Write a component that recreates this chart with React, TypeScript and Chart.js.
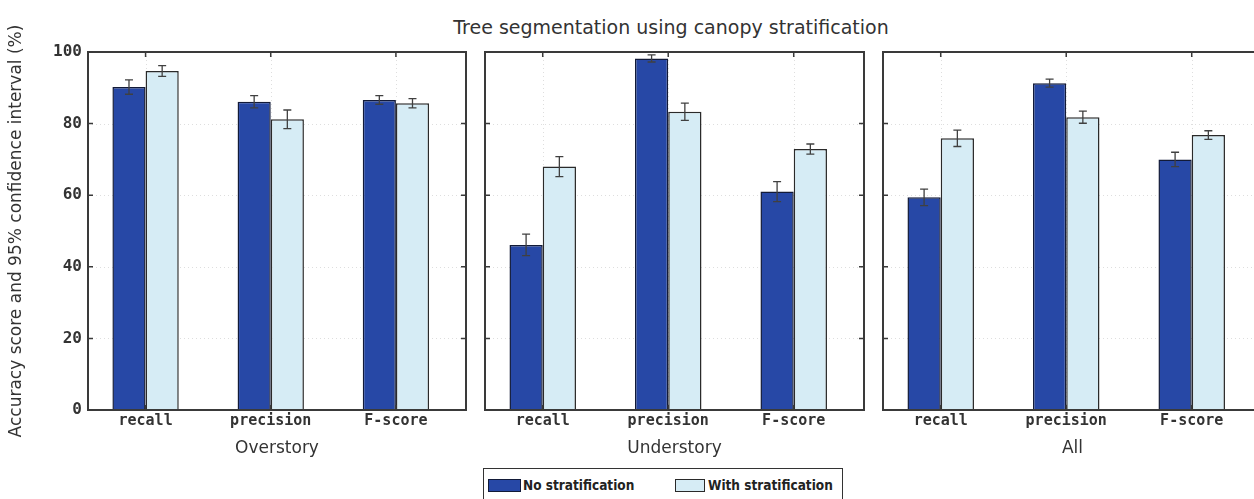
import React, { useEffect, useRef } from "react";
import { Chart, registerables } from "chart.js";

Chart.register(...registerables);

const categories = ["recall", "precision", "F-score"];
const categoryPositions = [1, 2, 3];
const panelTitles = ["Overstory", "Understory", "All"];
const seriesNames = ["No stratification", "With stratification"];
const yTicks = [0, 20, 40, 60, 80, 100];
const yLabel = "Accuracy score and 95% confidence interval (%)";
const mainTitle = "Tree segmentation using canopy stratification";

const overstoryNo = [90.2, 86.1, 86.6];
const overstoryNoErr = [2.0, 1.7, 1.2];
const overstoryWith = [94.7, 81.2, 85.7];
const overstoryWithErr = [1.5, 2.6, 1.3];

const understoryNo = [46.1, 98.2, 61.0];
const understoryNoErr = [3.0, 1.0, 2.8];
const understoryWith = [68.0, 83.3, 72.9];
const understoryWithErr = [2.8, 2.4, 1.4];

const allNo = [59.4, 91.3, 70.0];
const allNoErr = [2.3, 1.1, 2.0];
const allWith = [75.9, 81.8, 76.8];
const allWithErr = [2.3, 1.7, 1.2];

const DARK = "#2748a6";
const DARK_BORDER = "#121a38";
const LIGHT = "#d6ecf5";
const LIGHT_BORDER = "#2a2a2a";

const panelsData = [
  { no: overstoryNo, noErr: overstoryNoErr, wi: overstoryWith, wiErr: overstoryWithErr },
  { no: understoryNo, noErr: understoryNoErr, wi: understoryWith, wiErr: understoryWithErr },
  { no: allNo, noErr: allNoErr, wi: allWith, wiErr: allWithErr },
];

const panelLayout = [
  { left: 0, width: 470, padLeft: 0, padRight: 4, showY: true },
  { left: 470, width: 400, padLeft: 15, padRight: 6, showY: false },
  { left: 870, width: 400, padLeft: 13, padRight: 8, showY: false },
];

const CANVAS_H = 460;

const matlabAxes = {
  id: "matlabAxes",
  beforeDatasetsDraw(chart: any) {
    const { ctx, chartArea: a, scales } = chart;
    const x = scales.x;
    const y = scales.y;
    ctx.save();
    ctx.strokeStyle = "rgba(0,0,0,0.13)";
    ctx.lineWidth = 1;
    ctx.setLineDash([1, 3]);
    yTicks.forEach((v) => {
      const py = Math.round(y.getPixelForValue(v)) + 0.5;
      ctx.beginPath();
      ctx.moveTo(a.left, py);
      ctx.lineTo(a.right, py);
      ctx.stroke();
    });
    categoryPositions.forEach((v) => {
      const px = Math.round(x.getPixelForValue(v)) + 0.5;
      ctx.beginPath();
      ctx.moveTo(px, a.top);
      ctx.lineTo(px, a.bottom);
      ctx.stroke();
    });
    ctx.restore();
  },
  afterDraw(chart: any) {
    const { ctx, chartArea: a, scales } = chart;
    const x = scales.x;
    const y = scales.y;
    ctx.save();
    ctx.strokeStyle = "#3a3a3a";
    ctx.lineWidth = 2;
    ctx.strokeRect(a.left, a.top, a.right - a.left, a.bottom - a.top);
    ctx.lineWidth = 1.5;
    const tl = 5;
    yTicks.forEach((v) => {
      const py = y.getPixelForValue(v);
      ctx.beginPath();
      ctx.moveTo(a.left, py);
      ctx.lineTo(a.left + tl, py);
      ctx.moveTo(a.right, py);
      ctx.lineTo(a.right - tl, py);
      ctx.stroke();
    });
    categoryPositions.forEach((v) => {
      const px = x.getPixelForValue(v);
      ctx.beginPath();
      ctx.moveTo(px, a.top);
      ctx.lineTo(px, a.top + tl);
      ctx.moveTo(px, a.bottom);
      ctx.lineTo(px, a.bottom - tl);
      ctx.stroke();
    });
    ctx.restore();
  },
};

const errorBars = {
  id: "errorBars",
  afterDatasetsDraw(chart: any) {
    const { ctx } = chart;
    const y = chart.scales.y;
    ctx.save();
    ctx.strokeStyle = "#404040";
    ctx.lineWidth = 1.3;
    chart.data.datasets.forEach((ds: any, i: number) => {
      const meta = chart.getDatasetMeta(i);
      meta.data.forEach((bar: any, j: number) => {
        const v = ds.data[j].y;
        const e = ds.errors[j];
        const top = y.getPixelForValue(v + e);
        const bot = y.getPixelForValue(v - e);
        const cx = bar.x;
        const cap = 4;
        ctx.beginPath();
        ctx.moveTo(cx, top);
        ctx.lineTo(cx, bot);
        ctx.moveTo(cx - cap, top);
        ctx.lineTo(cx + cap, top);
        ctx.moveTo(cx - cap, bot);
        ctx.lineTo(cx + cap, bot);
        ctx.stroke();
      });
    });
    ctx.restore();
  },
};

function Panel({ index }: { index: number }) {
  const ref = useRef<HTMLCanvasElement | null>(null);
  useEffect(() => {
    const lay = panelLayout[index];
    const d = panelsData[index];
    const toPts = (vals: number[]) => vals.map((v, i) => ({ x: categoryPositions[i], y: v }));
    const chart = new Chart(ref.current as HTMLCanvasElement, {
      type: "bar",
      data: {
        datasets: [
          {
            label: seriesNames[0],
            data: toPts(d.no),
            errors: d.noErr,
            backgroundColor: DARK,
            borderColor: DARK_BORDER,
            borderWidth: 1.5,
          } as any,
          {
            label: seriesNames[1],
            data: toPts(d.wi),
            errors: d.wiErr,
            backgroundColor: LIGHT,
            borderColor: LIGHT_BORDER,
            borderWidth: 1.5,
          } as any,
        ],
      },
      options: {
        responsive: false,
        animation: false,
        events: [],
        categoryPercentage: 0.53,
        barPercentage: 1.0,
        layout: { padding: { left: lay.padLeft, right: lay.padRight, top: 52, bottom: 0 } },
        plugins: { legend: { display: false }, tooltip: { enabled: false }, title: { display: false } },
        scales: {
          x: {
            type: "linear",
            min: 0.54,
            max: 3.56,
            offset: false,
            grid: { display: false, drawTicks: false, offset: false },
            border: { display: false },
            afterBuildTicks: (s: any) => {
              s.ticks = categoryPositions.map((v) => ({ value: v }));
            },
            afterFit: (s: any) => {
              s.height = CANVAS_H - 410;
            },
            ticks: {
              autoSkip: false,
              maxRotation: 0,
              padding: 2,
              color: "#333",
              font: { family: "'DejaVu Sans Mono', monospace", size: 15, weight: "bold" },
              callback: (v: any) => categories[Math.round(Number(v)) - 1] ?? "",
            },
            title: {
              display: true,
              text: panelTitles[index],
              color: "#333",
              font: { family: "'DejaVu Sans', sans-serif", size: 17 },
              padding: { top: 0, bottom: 1 },
            },
          },
          y: {
            type: "linear",
            display: lay.showY,
            min: 0,
            max: 100,
            grid: { display: false, drawTicks: false },
            border: { display: false },
            afterBuildTicks: (s: any) => {
              s.ticks = yTicks.map((v) => ({ value: v }));
            },
            afterFit: (s: any) => {
              if (lay.showY) s.width = 88;
            },
            ticks: {
              padding: 6,
              color: "#333",
              font: { family: "'DejaVu Sans Mono', monospace", size: 16, weight: "bold" },
            },
            title: {
              display: lay.showY,
              text: yLabel,
              color: "#333",
              font: { family: "'DejaVu Sans', sans-serif", size: 17 },
              padding: { top: 6, bottom: 0 },
            },
          },
        },
      } as any,
      plugins: [matlabAxes, errorBars],
    });
    return () => chart.destroy();
  }, [index]);
  const lay = panelLayout[index];
  return (
    <canvas
      ref={ref}
      width={lay.width}
      height={CANVAS_H}
      style={{ position: "absolute", left: lay.left, top: 0, width: lay.width, height: CANVAS_H }}
    />
  );
}

export default function App() {
  const legendText: React.CSSProperties = {
    position: "absolute",
    top: 478,
    fontFamily: "'DejaVu Sans Condensed', 'DejaVu Sans', sans-serif",
    fontWeight: "bold",
    fontSize: 13.5,
    lineHeight: "15px",
    color: "#222",
    whiteSpace: "nowrap",
  };
  return (
    <div
      style={{
        position: "fixed",
        left: 0,
        top: 0,
        width: 1254,
        height: 499,
        overflow: "hidden",
        background: "#fff",
      }}
    >
      <div
        style={{
          position: "absolute",
          left: 671,
          top: 15,
          transform: "translateX(-50%)",
          fontFamily: "'DejaVu Sans', sans-serif",
          fontSize: 19,
          lineHeight: "24px",
          color: "#333",
          whiteSpace: "nowrap",
        }}
      >
        {mainTitle}
      </div>
      {panelLayout.map((_, i) => (
        <Panel key={i} index={i} />
      ))}
      <div
        style={{
          position: "absolute",
          left: 483,
          top: 468,
          width: 360,
          height: 40,
          border: "1.5px solid #333",
          boxSizing: "border-box",
        }}
      />
      <div
        style={{
          position: "absolute",
          left: 488,
          top: 479,
          width: 33,
          height: 13,
          background: DARK,
          border: `1px solid ${DARK_BORDER}`,
          boxSizing: "border-box",
        }}
      />
      <div style={{ ...legendText, left: 523 }}>{seriesNames[0]}</div>
      <div
        style={{
          position: "absolute",
          left: 675,
          top: 479,
          width: 30,
          height: 13,
          background: LIGHT,
          border: `1.5px solid ${LIGHT_BORDER}`,
          boxSizing: "border-box",
        }}
      />
      <div style={{ ...legendText, left: 708 }}>{seriesNames[1]}</div>
    </div>
  );
}
